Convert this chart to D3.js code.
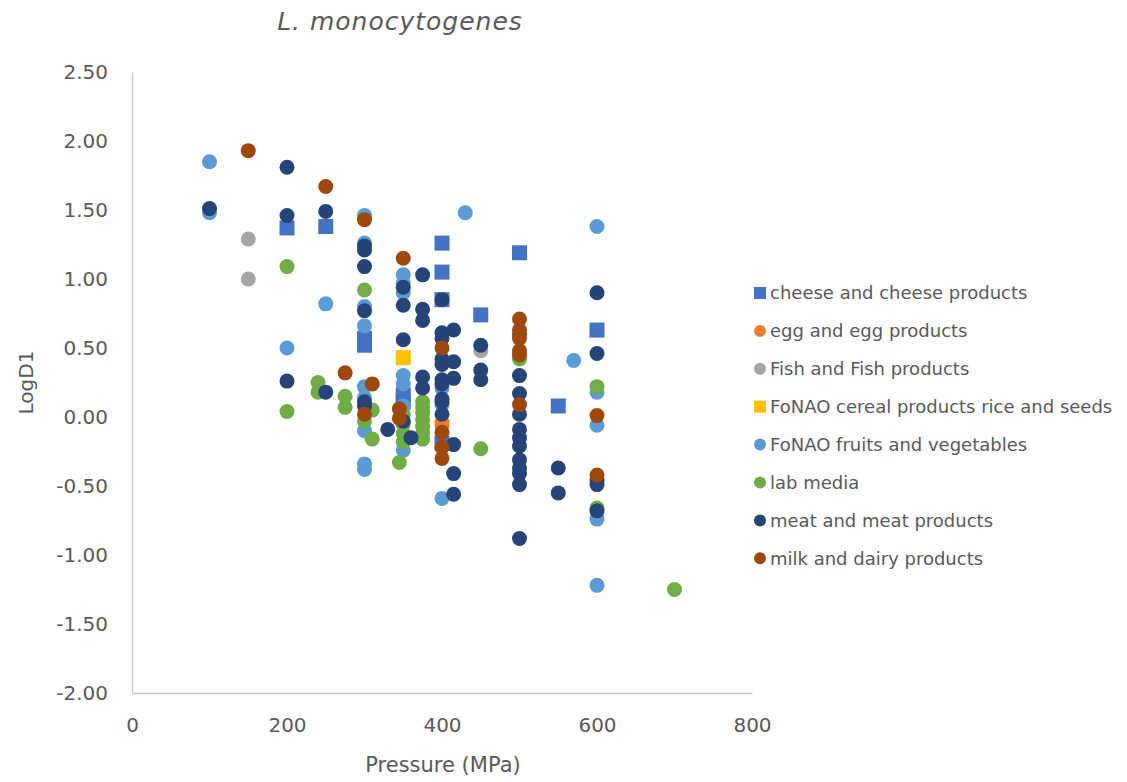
<!DOCTYPE html>
<html>
<head>
<meta charset="utf-8">
<script src="https://cdn.jsdelivr.net/npm/d3@7"></script>
<style>
  html, body { margin: 0; padding: 0; background: #fff; }
  svg text { font-family: "DejaVu Sans", sans-serif; fill: #595959; }
</style>
</head>
<body>
<svg id="chart" width="1127" height="782"></svg>
<script>
// Axis ticks
const xTicks = [0, 200, 400, 600, 800];
const yTicks = [-2, -1.5, -1, -0.5, 0, 0.5, 1, 1.5, 2, 2.5];

// Series data: [pressure (MPa), LogD1]
const cheese = [[200,1.37],[250,1.38],[300,0.57],[300,0.52],[350,0.16],[350,0.11],[400,1.26],[400,1.05],[400,0.85],[400,-0.19],[450,0.74],[500,1.19],[550,0.08],[600,0.63]];
const egg = [[400,-0.04],[400,-0.06]];
const fish = [[150,1.29],[150,1.00],[450,0.48]];
const cereal = [[350,0.43]];
const fruitsVeg = [[100,1.85],[100,1.48],[200,0.50],[250,0.82],[300,1.46],[300,1.26],[300,0.80],[300,0.66],[300,0.22],[300,0.14],[300,-0.10],[300,-0.34],[300,-0.38],[350,1.03],[350,0.97],[350,0.90],[350,0.30],[350,0.24],[350,0.08],[350,-0.24],[400,0.21],[400,0.09],[400,-0.59],[430,1.48],[570,0.41],[600,1.38],[600,0.18],[600,-0.06],[600,-0.74],[600,-1.22]];
const labMedia = [[200,1.09],[200,0.04],[240,0.25],[240,0.18],[275,0.15],[275,0.07],[300,0.92],[300,-0.03],[310,0.05],[310,-0.16],[345,-0.33],[350,0.02],[350,-0.05],[350,-0.12],[350,-0.18],[375,0.11],[375,0.07],[375,0.03],[375,-0.02],[375,-0.07],[375,-0.12],[375,-0.16],[450,-0.23],[500,0.42],[600,0.22],[600,-0.66],[700,-1.25]];
const meat = [[100,1.51],[200,1.81],[200,1.46],[200,0.26],[250,1.49],[250,0.18],[300,1.24],[300,1.21],[300,1.09],[300,0.77],[300,0.11],[300,0.08],[330,-0.09],[350,0.94],[350,0.81],[350,0.56],[350,-0.03],[360,-0.15],[375,1.03],[375,0.78],[375,0.70],[375,0.29],[375,0.21],[400,0.85],[400,0.61],[400,0.57],[400,0.42],[400,0.38],[400,0.27],[400,0.24],[400,0.13],[400,0.11],[400,0.02],[415,0.63],[415,0.40],[415,0.28],[415,-0.20],[415,-0.41],[415,-0.56],[450,0.52],[450,0.34],[450,0.27],[500,0.30],[500,0.17],[500,0.02],[500,-0.09],[500,-0.15],[500,-0.21],[500,-0.31],[500,-0.37],[500,-0.41],[500,-0.49],[500,-0.88],[550,-0.37],[550,-0.55],[600,0.90],[600,0.46],[600,-0.46],[600,-0.49],[600,-0.68]];
const milk = [[150,1.93],[250,1.67],[275,0.32],[300,1.43],[300,0.02],[310,0.24],[345,0.06],[345,-0.01],[350,1.15],[400,0.50],[400,-0.11],[400,-0.22],[400,-0.30],[500,0.71],[500,0.63],[500,0.60],[500,0.57],[500,0.48],[500,0.45],[500,0.09],[600,0.01],[600,-0.42]];

const seriesNames = ["cheese and cheese products","egg and egg products","Fish and Fish products","FoNAO cereal products rice and seeds","FoNAO fruits and vegetables","lab media","meat and meat products","milk and dairy products"];
const seriesData = [cheese, egg, fish, cereal, fruitsVeg, labMedia, meat, milk];
const seriesColors = ["#4472C4","#ED7D31","#A5A5A5","#FFC000","#5B9BD5","#70AD47","#264478","#9E480E"];
const seriesShapes = ["square","circle","circle","square","circle","circle","circle","circle"];

const svg = d3.select("#chart");
const plot = { left: 132, top: 72, width: 620, height: 621 };

const x = d3.scaleLinear().domain([0, 800]).range([plot.left, plot.left + plot.width]);
const y = d3.scaleLinear().domain([-2, 2.5]).range([plot.top + plot.height, plot.top]);

// Title
svg.append("text")
  .attr("x", 400).attr("y", 30)
  .attr("text-anchor", "middle")
  .style("font-size", "25px")
  .style("font-style", "italic")
  .style("letter-spacing", "1px")
  .text("L. monocytogenes");

// Axes
const axisColor = "#C6C6C6";
const xAxis = svg.append("g")
  .attr("transform", `translate(0,${plot.top + plot.height})`)
  .call(d3.axisBottom(x).tickValues(xTicks).tickSize(0).tickPadding(25).tickFormat(d3.format("d")));
const yAxis = svg.append("g")
  .attr("transform", `translate(${plot.left},0)`)
  .call(d3.axisLeft(y).tickValues(yTicks).tickSize(0).tickPadding(24).tickFormat(d => d.toFixed(2)));

[xAxis, yAxis].forEach(g => {
  g.select(".domain").attr("stroke", axisColor).attr("stroke-width", 1.3);
  g.selectAll("text").style("font-size", "20px").style("font-family", "'DejaVu Sans', sans-serif").attr("fill", "#595959");
});

// Axis titles
svg.append("text")
  .attr("x", x(400) + 1).attr("y", 772)
  .attr("text-anchor", "middle")
  .style("font-size", "21px")
  .text("Pressure (MPa)");
svg.append("text")
  .attr("transform", `translate(33,${(plot.top + plot.top + plot.height) / 2}) rotate(-90)`)
  .attr("text-anchor", "middle")
  .style("font-size", "20px")
  .text("LogD1");

// Markers, drawn series by series so later series sit on top
const markerSize = 15;
const marks = svg.append("g");
seriesData.forEach((data, i) => {
  const g = marks.append("g");
  if (seriesShapes[i] === "square") {
    g.selectAll("rect").data(data).join("rect")
      .attr("x", d => x(d[0]) - markerSize / 2)
      .attr("y", d => y(d[1]) - markerSize / 2)
      .attr("width", markerSize).attr("height", markerSize)
      .attr("fill", seriesColors[i]);
  } else {
    g.selectAll("circle").data(data).join("circle")
      .attr("cx", d => x(d[0]))
      .attr("cy", d => y(d[1]))
      .attr("r", markerSize / 2)
      .attr("fill", seriesColors[i]);
  }
});

// Legend
const legend = svg.append("g").attr("transform", "translate(760,293)");
const rowGap = 37.9;
const legendMarker = 12;
seriesNames.forEach((name, i) => {
  const row = legend.append("g").attr("transform", `translate(0,${i * rowGap})`);
  if (seriesShapes[i] === "square") {
    row.append("rect")
      .attr("x", -legendMarker / 2).attr("y", -legendMarker / 2)
      .attr("width", legendMarker).attr("height", legendMarker)
      .attr("fill", seriesColors[i]);
  } else {
    row.append("circle").attr("r", legendMarker / 2).attr("fill", seriesColors[i]);
  }
  row.append("text")
    .attr("x", 10).attr("dy", "0.35em")
    .style("font-size", "18px")
    .text(name);
});
</script>
</body>
</html>
